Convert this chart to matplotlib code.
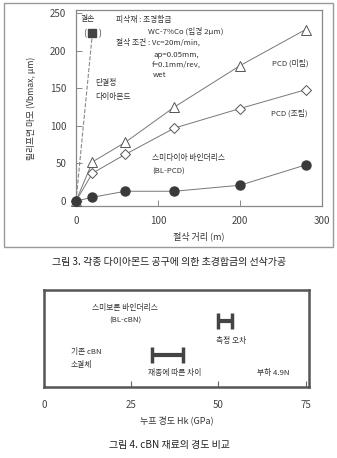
import matplotlib.pyplot as plt
from matplotlib.patches import Rectangle

plt.rcParams['font.family'] = ['Noto Sans CJK KR', 'DejaVu Sans']

# 그림 3: 절삭 거리에 따른 마모
dist = [0, 20, 60, 120, 200, 280]
pcd_fine = [0, 52, 78, 125, 180, 228]
pcd_coarse = [0, 37, 62, 97, 123, 148]
bl_pcd = [0, 5, 13, 13, 21, 48]
single_dist = [0, 20]
single_wear = [0, 223]

# 그림 4: 누프 경도 범위 (GPa)
err_range = [50, 54]
grade_range = [31, 40]

txt = '#333333'
line = '#777777'

fig = plt.figure(figsize=(3.37, 4.58), dpi=100)

# 위쪽 그림 테두리
fig.patches.append(Rectangle((4 / 337, 1 - 247 / 458), 329 / 337, 244 / 458,
                             transform=fig.transFigure, fill=False,
                             edgecolor='#999999', linewidth=1))

ax = fig.add_axes([76 / 337, 1 - 206 / 458, 246 / 337, 196 / 458])
ax.plot(dist, pcd_fine, '-', color=line, lw=0.7, marker='^', ms=7.5,
        mfc='white', mec='#555555', mew=0.7, clip_on=False, zorder=3)
ax.plot(dist, pcd_coarse, '-', color=line, lw=0.7, marker='D', ms=5,
        mfc='white', mec='#555555', mew=0.7, clip_on=False, zorder=3)
ax.plot(dist, bl_pcd, '-', color=line, lw=0.7, marker='o', ms=6.5,
        mfc='#3a3a3a', mec='#3a3a3a', clip_on=False, zorder=4)
ax.plot(single_dist, single_wear, '--', color='#888888', lw=0.8, zorder=2)
ax.plot(single_dist[-1:], single_wear[-1:], 's', ms=5.5, color='#444444', zorder=4)

ax.set_xlim(0, 300)
ax.set_ylim(-6.6, 254)
ax.set_xticks([0, 100, 200, 300])
ax.set_yticks([0, 50, 100, 150, 200, 250])
ax.tick_params(direction='in', length=4, width=0.7, color='#888888',
               labelsize=7, labelcolor='#444444', pad=7)
for s in ax.spines.values():
    s.set_color('#888888')
    s.set_linewidth(0.9)
ax.set_xlabel('절삭 거리 (m)', fontsize=6.5, color=txt, labelpad=4)
ax.set_ylabel('릴리프면 마모 (Vbmax, μm)', fontsize=6.3, color=txt, labelpad=10)

fs = 5.6
ax.text(14, 242, '결손', fontsize=fs, color=txt, ha='center', va='center')
ax.text(21, 222, '(      )', fontsize=6.5, color=txt, ha='center', va='center')
ax.text(23, 157, '단결정', fontsize=fs, color=txt, va='center')
ax.text(23, 138, '다이아몬드', fontsize=fs, color=txt, va='center')
ax.text(49, 241, '피삭재 : 초경합금', fontsize=fs, color=txt, va='center')
ax.text(88, 225, 'WC-7%Co (입경 2μm)', fontsize=fs, color=txt, va='center')
ax.text(49, 211, '절삭 조건 : Vc=20m/min,', fontsize=fs, color=txt, va='center')
ax.text(94, 194, 'ap=0.05mm,', fontsize=fs, color=txt, va='center')
ax.text(92, 181, 'f=0.1mm/rev,', fontsize=fs, color=txt, va='center')
ax.text(94, 168, 'wet', fontsize=fs, color=txt, va='center')
ax.text(239, 183, 'PCD (미립)', fontsize=fs, color=txt, va='center')
ax.text(238, 117, 'PCD (조립)', fontsize=fs, color=txt, va='center')
ax.text(93, 57, '스미다이아 바인더리스', fontsize=fs, color=txt, va='center')
ax.text(93, 39, '(BL-PCD)', fontsize=fs, color=txt, va='center')

fig.text(169 / 337, 1 - 262 / 458, '그림 3. 각종 다이아몬드 공구에 의한 초경합금의 선삭가공',
         fontsize=7.2, color='#222222', ha='center', va='center')

# 아래 그림: 경도 비교
ax2 = fig.add_axes([44 / 337, 1 - 387 / 458, 265 / 337, 97 / 458])
ax2.set_xlim(0, 76)
ax2.set_ylim(0, 1)
for lo, hi, y in [(err_range[0], err_range[1], 0.68),
                  (grade_range[0], grade_range[1], 0.33)]:
    ax2.errorbar([(lo + hi) / 2], [y], xerr=[(hi - lo) / 2], fmt='none',
                 ecolor='#444444', elinewidth=3, capsize=5.5, capthick=2.5)

ax2.text(23.2, 0.814, '스미보론 바인더리스', fontsize=fs, color=txt, ha='center', va='center')
ax2.text(23.2, 0.68, '(BL-cBN)', fontsize=fs, color=txt, ha='center', va='center')
ax2.text(53.6, 0.474, '측정 오차', fontsize=fs, color=txt, ha='center', va='center')
ax2.text(7.7, 0.36, '기존 cBN', fontsize=fs, color=txt, va='center')
ax2.text(7.7, 0.227, '소결체', fontsize=fs, color=txt, va='center')
ax2.text(37.6, 0.144, '재종에 따른 차이', fontsize=fs, color=txt, ha='center', va='center')
ax2.text(61.1, 0.144, '부하 4.9N', fontsize=fs, color=txt, va='center')

ax2.set_xticks([0, 25, 50, 75])
ax2.set_yticks([])
ax2.tick_params(direction='in', length=4, width=0.8, color='#666666',
                labelsize=7, labelcolor='#444444', pad=9)
for s in ax2.spines.values():
    s.set_color('#555555')
    s.set_linewidth(1.8)
ax2.set_xlabel('누프 경도 Hk (GPa)', fontsize=6.5, color=txt, labelpad=4)

fig.text(169 / 337, 1 - 445 / 458, '그림 4. cBN 재료의 경도 비교',
         fontsize=7.2, color='#222222', ha='center', va='center')

fig.savefig('out.png', dpi=100, facecolor='white')
